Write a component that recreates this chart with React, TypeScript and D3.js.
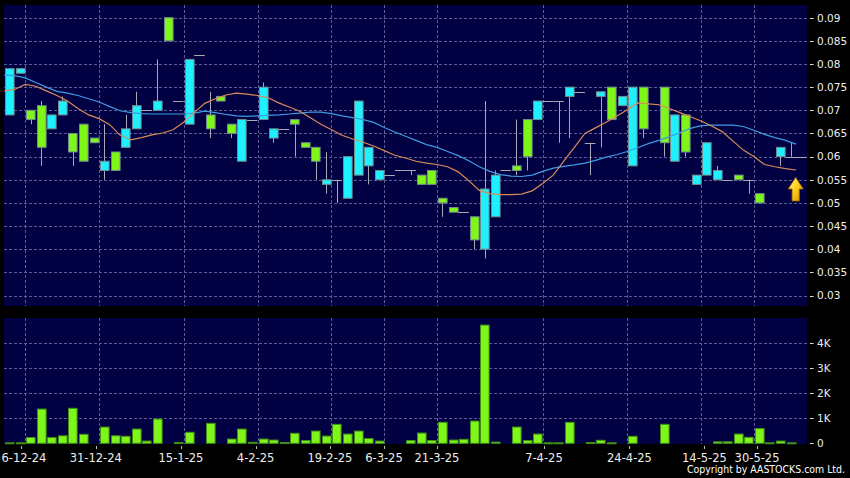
import React from "react";
import * as d3 from "d3";

// ---------- data ----------
const opens: (number | null)[] = [
  0.069, 0.078, 0.070, 0.071, 0.066, 0.069, 0.065, 0.067, 0.064, 0.057,
  0.061, 0.062, 0.066, 0.070, 0.070, 0.090, 0.072, 0.067, 0.082, 0.069,
  0.073, 0.067, 0.059, 0.068, 0.068, 0.064, 0.066, 0.068, 0.063, 0.062,
  0.054, 0.055, 0.051, 0.056, 0.058, 0.055, 0.056, 0.057, 0.057, 0.056,
  0.057, 0.051, 0.049, 0.048, 0.047, 0.040, 0.047, 0.057, 0.058, 0.068,
  0.068, 0.072, 0.072, 0.073, 0.074, 0.063, 0.073, 0.075, 0.071, 0.058,
  0.075, null, 0.075, 0.059, 0.069, 0.054, 0.056, 0.055, 0.055, 0.056,
  0.055, 0.052, null, 0.060, 0.060, 0.060,
];
const closes: (number | null)[] = [
  0.079, 0.079, 0.068, 0.062, 0.069, 0.072, 0.061, 0.059, 0.063, 0.059,
  0.057, 0.066, 0.071, 0.070, 0.072, 0.085, 0.072, 0.081, 0.082, 0.066,
  0.072, 0.065, 0.068, 0.068, 0.075, 0.066, 0.066, 0.067, 0.062, 0.059,
  0.055, 0.055, 0.060, 0.072, 0.062, 0.057, 0.056, 0.057, 0.057, 0.054,
  0.054, 0.050, 0.048, 0.048, 0.042, 0.053, 0.056, 0.057, 0.057, 0.060,
  0.072, 0.072, 0.072, 0.075, 0.074, 0.063, 0.074, 0.068, 0.073, 0.075,
  0.066, null, 0.063, 0.069, 0.061, 0.056, 0.063, 0.057, 0.055, 0.055,
  0.055, 0.050, null, 0.062, 0.060, 0.060,
];
const highs: (number | null)[] = [
  0.079, 0.079, 0.070, 0.072, 0.069, 0.073, 0.065, 0.067, 0.064, 0.067,
  0.061, 0.069, 0.074, 0.070, 0.081, 0.090, 0.072, 0.081, 0.082, 0.074,
  0.073, 0.067, 0.068, 0.068, 0.076, 0.066, 0.066, 0.068, 0.063, 0.062,
  0.061, 0.055, 0.060, 0.072, 0.062, 0.057, 0.056, 0.057, 0.057, 0.056,
  0.057, 0.051, 0.049, 0.048, 0.047, 0.072, 0.057, 0.057, 0.068, 0.068,
  0.072, 0.072, 0.072, 0.075, 0.074, 0.063, 0.074, 0.075, 0.073, 0.075,
  0.075, null, 0.075, 0.069, 0.069, 0.056, 0.063, 0.058, 0.055, 0.056,
  0.055, 0.052, null, 0.062, 0.063, 0.060,
];
const lows: (number | null)[] = [
  0.069, 0.078, 0.067, 0.058, 0.066, 0.069, 0.058, 0.059, 0.063, 0.055,
  0.057, 0.062, 0.066, 0.070, 0.070, 0.085, 0.072, 0.067, 0.082, 0.064,
  0.072, 0.064, 0.059, 0.068, 0.068, 0.063, 0.066, 0.060, 0.062, 0.055,
  0.052, 0.050, 0.051, 0.056, 0.054, 0.055, 0.056, 0.057, 0.056, 0.054,
  0.054, 0.047, 0.048, 0.048, 0.040, 0.038, 0.047, 0.057, 0.056, 0.057,
  0.068, 0.072, 0.063, 0.064, 0.074, 0.056, 0.062, 0.068, 0.071, 0.058,
  0.064, null, 0.060, 0.059, 0.060, 0.054, 0.056, 0.055, 0.055, 0.055,
  0.052, 0.050, null, 0.058, 0.060, 0.060,
];
const volumes: number[] = [
  20, 20, 230, 1370, 230, 300, 1400, 360, 0, 650,
  300, 280, 570, 90, 970, 0, 30, 440, 0, 800,
  0, 170, 570, 40, 170, 130, 30, 400, 110, 490,
  290, 760, 370, 490, 190, 90, 0, 0, 110, 410,
  110, 840, 130, 160, 890, 4730, 50, 0, 650, 110,
  370, 20, 20, 840, 0, 30, 120, 20, 0, 280,
  0, 0, 760, 0, 0, 0, 0, 60, 60, 370,
  240, 590, 20, 90, 20, 0,
];
// short moving average (orange) and long moving average (blue)
const maShort: number[] = [
  0.0742, 0.0745, 0.0756, 0.0752, 0.0742, 0.0732, 0.0720, 0.0704, 0.0690, 0.0682,
  0.0669, 0.0646, 0.0636, 0.0641, 0.0647, 0.0651, 0.0658, 0.0674, 0.0695, 0.0715,
  0.0725, 0.0733, 0.0737, 0.0735, 0.0732, 0.0727, 0.0716, 0.0707, 0.0698, 0.0684,
  0.0670, 0.0658, 0.0646, 0.0638, 0.0631, 0.0623, 0.0613, 0.0603, 0.0597, 0.0590,
  0.0586, 0.0583, 0.0578, 0.0567, 0.0548, 0.0527, 0.0520, 0.0518, 0.0518, 0.0519,
  0.0526, 0.0542, 0.0560, 0.0590, 0.0620, 0.0650, 0.0662, 0.0674, 0.0687, 0.0701,
  0.0716, 0.0714, 0.0712, 0.0704, 0.0695, 0.0686, 0.0677, 0.0666, 0.0654, 0.0634,
  0.0614, 0.0600, 0.0583, 0.0578, 0.0574, 0.0571,
];
const maLong: number[] = [
  0.0776, 0.0775, 0.0770, 0.0760, 0.0750, 0.0741, 0.0737, 0.0732, 0.0725, 0.0718,
  0.0708, 0.0699, 0.0695, 0.0693, 0.0692, 0.0692, 0.0692, 0.0692, 0.0694, 0.0698,
  0.0695, 0.0691, 0.0688, 0.0687, 0.0688, 0.0689, 0.0690, 0.0692, 0.0694, 0.0696,
  0.0696, 0.0693, 0.0688, 0.0684, 0.0680, 0.0674, 0.0663, 0.0653, 0.0644, 0.0635,
  0.0626, 0.0620, 0.0611, 0.0602, 0.0591, 0.0578, 0.0568, 0.0561, 0.0558, 0.0557,
  0.0560, 0.0568, 0.0575, 0.0579, 0.0582, 0.0586, 0.0592, 0.0599, 0.0604, 0.0611,
  0.0619, 0.0628, 0.0635, 0.0643, 0.0652, 0.0661, 0.0667, 0.0668, 0.0668, 0.0668,
  0.0665, 0.0657, 0.0648, 0.0641, 0.0635, 0.0627,
];
const priceTicks: number[] = [0.03, 0.035, 0.04, 0.045, 0.05, 0.055, 0.06, 0.065, 0.07, 0.075, 0.08, 0.085, 0.09];
const volumeTicks: number[] = [0, 1000, 2000, 3000, 4000];
const dateLabels: string[] = ["6-12-24", "31-12-24", "15-1-25", "4-2-25", "19-2-25", "6-3-25", "21-3-25", "7-4-25", "24-4-25", "14-5-25", "30-5-25"];
const dateGridIdx: number[] = [1.5, 8.5, 16.5, 23.5, 30.5, 35.5, 40.5, 50.5, 58.5, 65.5, 70.5];
const dateTickIdx: number[] = [1.13, 8.23, 16.28, 23.38, 30.39, 35.5, 40.52, 50.65, 58.7, 65.78, 70.83];
const dateLabelIdx: number[] = [1.38, 8.18, 16.25, 23.32, 30.36, 35.47, 40.49, 50.62, 58.72, 65.82, 70.8];

// ---------- layout ----------
const W = 850;
const H = 478;
const PL = 4, PR = 807;
const PT = 5, PB = 306;
const VT = 318, VB = 444;
const N = closes.length;

const FONT = "'DejaVu Sans', Verdana, sans-serif";
const UP = "#1ff0ff";
const DOWN = "#7ff51a";
const GRID = "#5c5c92";

export default function App() {
  const step = 10.56;
  const x = d3.scaleLinear().domain([0, N - 1]).range([9.4, 9.4 + step * (N - 1)]);
  const y = d3.scaleLinear().domain([0.03, 0.09]).range([295.5, 17.7]);
  const yv = d3.scaleLinear().domain([0, 5000]).range([443.3, 318.3]);
  const bodyW = 8.6;

  const maLine = d3
    .line<number>()
    .x((_, i) => x(i) - step / 2)
    .y((d) => y(d))
    .curve(d3.curveLinear);

  const fmtPrice = (v: number) => String(+v.toFixed(3));
  const fmtVol = (v: number) => (v === 0 ? "0" : `${v / 1000}K`);

  const candles = d3.range(N).map((i) => {
    const o = opens[i], c = closes[i], h = highs[i], l = lows[i];
    if (o == null || c == null || h == null || l == null) return null;
    const cx = x(i);
    const x0 = Math.round(cx - bodyW / 2) + 0.5;
    const wick = h > l ? (
      <line key="w" x1={Math.round(cx) + 0.5} x2={Math.round(cx) + 0.5} y1={y(h)} y2={y(l)} stroke="#a9a9b4" strokeWidth={1} />
    ) : null;
    if (o === c) {
      return (
        <g key={i}>
          {wick}
          <line x1={cx - step / 2} x2={cx + step / 2} y1={Math.round(y(c)) + 0.5} y2={Math.round(y(c)) + 0.5} stroke="#a9a9b4" strokeWidth={1} />
        </g>
      );
    }
    const top = y(Math.max(o, c));
    const bot = y(Math.min(o, c));
    return (
      <g key={i}>
        {wick}
        <rect x={x0} y={top} width={bodyW} height={Math.max(1, bot - top)} fill={c > o ? UP : DOWN} stroke="#6f8c8c" strokeWidth={1} />
      </g>
    );
  });

  const vbars = volumes.map((v, i) => {
    if (v <= 0) return null;
    const cx = x(i);
    const top = yv(v);
    return (
      <rect key={i} x={Math.round(cx - bodyW / 2) + 0.5} y={top} width={bodyW} height={Math.max(1, yv(0) - top)} fill={DOWN} stroke="#3f8f16" strokeWidth={1} />
    );
  });

  // arrow geometry near last candle
  const ax = x(N - 1) - 5.7;
  const ay = y(0.0555);

  return (
    <svg width={W} height={H} style={{ position: "absolute", left: 0, top: 0, background: "#000" }} fontFamily={FONT}>
      <defs>
        <linearGradient id="arrowGrad" x1="0" y1="0" x2="1" y2="1">
          <stop offset="0%" stopColor="#fff7a8" />
          <stop offset="45%" stopColor="#ffd21f" />
          <stop offset="100%" stopColor="#d98c00" />
        </linearGradient>
        <clipPath id="priceClip">
          <rect x={PL} y={PT} width={PR - PL} height={PB - PT} />
        </clipPath>
      </defs>
      <rect x={0} y={0} width={W} height={H} fill="#000" />

      {/* panels */}
      <rect x={PL} y={PT} width={PR - PL} height={PB - PT} fill="#000042" />
      <rect x={PL} y={VT} width={PR - PL} height={VB - VT} fill="#000042" />

      {/* horizontal grid */}
      {priceTicks.map((t) => (
        <line key={`pg${t}`} x1={PL} x2={PR} y1={Math.round(y(t)) + 0.5} y2={Math.round(y(t)) + 0.5} stroke={GRID} strokeDasharray="3,2" strokeWidth={1} />
      ))}
      {volumeTicks.filter((t) => t > 0).map((t) => (
        <line key={`vg${t}`} x1={PL} x2={PR} y1={Math.round(yv(t)) + 0.5} y2={Math.round(yv(t)) + 0.5} stroke={GRID} strokeDasharray="3,2" strokeWidth={1} />
      ))}
      {/* vertical grid */}
      {dateGridIdx.map((g, k) => (
        <g key={`dg${k}`}>
          <line x1={Math.round(x(g)) + 0.5} x2={Math.round(x(g)) + 0.5} y1={PT} y2={PB} stroke={GRID} strokeDasharray="3,2" />
          <line x1={Math.round(x(g)) + 0.5} x2={Math.round(x(g)) + 0.5} y1={VT} y2={VB} stroke={GRID} strokeDasharray="3,2" />
        </g>
      ))}

      {/* candles */}
      <g clipPath="url(#priceClip)">{candles}</g>

      {/* moving averages */}
      <path d={maLine(maLong) || ""} fill="none" stroke="#3f9be0" strokeWidth={1.2} />
      <path d={maLine(maShort) || ""} fill="none" stroke="#d98a5a" strokeWidth={1.2} />

      {/* arrow */}
      <path
        d={`M${ax},${ay} L${ax + 7.5},${ay + 11.5} L${ax + 3.6},${ay + 11.5} L${ax + 3.6},${ay + 23.5} L${ax - 3.6},${ay + 23.5} L${ax - 3.6},${ay + 11.5} L${ax - 7.5},${ay + 11.5} Z`}
        fill="url(#arrowGrad)"
        stroke="#a86a00"
        strokeWidth={0.8}
      />

      {/* volume bars */}
      {vbars}

      {/* price axis */}
      {priceTicks.map((t) => (
        <g key={`pt${t}`}>
          <line x1={810} x2={813.5} y1={Math.round(y(t)) + 0.5} y2={Math.round(y(t)) + 0.5} stroke="#dddddd" />
          <text x={817} y={y(t) + 3.8} fontSize={10.5} fill="#eeeeee">{fmtPrice(t)}</text>
        </g>
      ))}
      {/* volume axis */}
      {volumeTicks.map((t) => (
        <g key={`vt${t}`}>
          <line x1={810} x2={813.5} y1={Math.round(yv(t)) + 0.5} y2={Math.round(yv(t)) + 0.5} stroke="#dddddd" />
          <text x={817} y={yv(t) + 3.8} fontSize={10.5} fill="#eeeeee">{fmtVol(t)}</text>
        </g>
      ))}

      {/* date axis */}
      {dateLabels.map((lab, k) => (
        <g key={`dl${k}`}>
          <line x1={Math.round(x(dateTickIdx[k])) + 0.5} x2={Math.round(x(dateTickIdx[k])) + 0.5} y1={446} y2={449} stroke="#bbbbbb" />
          <text x={x(dateLabelIdx[k])} y={462.3} fontSize={11.5} fill="#eeeeee" textAnchor="middle">{lab}</text>
        </g>
      ))}

      <text x={845} y={472.8} fontSize={10.2} fill="#ffffff" textAnchor="end" textLength={158} lengthAdjust="spacingAndGlyphs">
        Copyright by AASTOCKS.com Ltd.
      </text>
    </svg>
  );
}
